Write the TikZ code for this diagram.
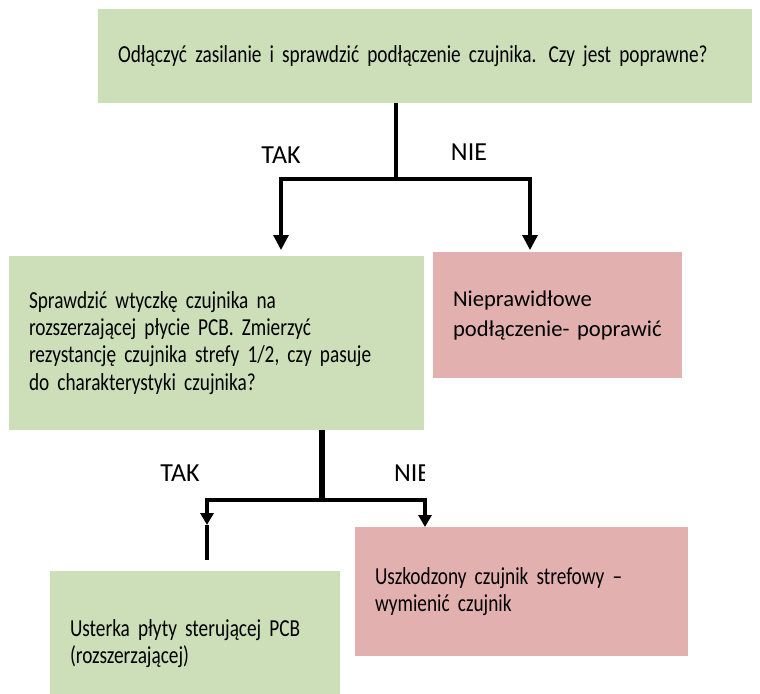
\documentclass[tikz,border=0pt]{standalone}
\usepackage{fontspec}
\setmainfont{Carlito}
\newfontfamily\narrowfont[FakeStretch=0.79,WordSpace=0.85]{Carlito}
\usetikzlibrary{arrows.meta}
\definecolor{boxGreen}{RGB}{205,223,185}
\definecolor{boxRed}{RGB}{227,176,176}
\begin{document}
\begin{tikzpicture}[x=0.5pt,y=-0.5pt,
    flowBox/.style={inner xsep=10pt,inner ysep=0pt,align=left,font=\narrowfont\fontsize{12.2}{13.6}\selectfont},
    greenBox/.style={flowBox,fill=boxGreen},
    redBox/.style={flowBox,fill=boxRed},
    flowLine/.style={line width=1.6pt,draw=black},
    flowArrow/.style={flowLine,-{Triangle[width=7.5pt,length=7.5pt]}},
    ansLabel/.style={font=\fontsize{13}{15}\selectfont},
]
\clip (0,0) rectangle (760,693);
\node[greenBox,text width=307pt,minimum height=47pt] (CHECK) at (425,56)
    {Odłączyć zasilanie i sprawdzić podłączenie czujnika. Czy jest poprawne?};
\node[greenBox,text width=187.5pt,minimum height=87pt] (PCB) at (216.5,343)
    {\frenchspacing Sprawdzić wtyczkę czujnika na\\rozszerzającej płycie PCB. Zmierzyć\\rezystancję czujnika strefy 1/2, czy pasuje\\do charakterystyki czujnika?};
\node[redBox,text width=104.5pt,minimum height=63pt,font=\fontsize{11.3}{15}\selectfont] (BADWIRE) at (557.5,315)
    {Nieprawidłowe\\podłączenie- poprawić};
\node[redBox,text width=146.5pt,minimum height=64.5pt] (BADSENS) at (521.5,591.5)
    {Uszkodzony czujnik strefowy –\\wymienić czujnik};
\node[greenBox,text width=125pt,minimum height=73pt] (BOARD) at (195,644)
    {Usterka płyty sterującej PCB\\(rozszerzającej)};
% first question
\coordinate (SPLITA) at (396,179);
\coordinate (TAKA) at (281,250);
\coordinate (NIEA) at (530,250);
\draw[flowLine] (CHECK.south -| SPLITA) -- (SPLITA);
\draw[flowArrow] (SPLITA) -| (TAKA);
\draw[flowArrow] (SPLITA) -| (NIEA);
\node[ansLabel] (TAKATXT) at (281,155) {TAK};
\node[ansLabel] (NIEATXT) at (469,152) {NIE};
% second question
\coordinate (SPLITB) at (322,500);
\coordinate (TAKB) at (207,525);
\coordinate (TAKBEND) at (207,560);
\coordinate (NIEB) at (425,527);
\draw[flowLine,line width=3pt] (PCB.south -| SPLITB) -- (SPLITB);
\draw[flowArrow,-{Triangle[width=6.5pt,length=6pt]}] (SPLITB) -| (TAKB);
\draw[flowLine] (TAKB) -- (TAKBEND);
\draw[flowArrow,-{Triangle[width=6.5pt,length=6pt]}] (SPLITB) -| (NIEB);
\node[ansLabel] (TAKBTXT) at (180,473) {TAK};
\begin{scope}
\clip (380,440) rectangle (424,495);
\node[ansLabel,anchor=west] (NIEBTXT) at (387,473) {NIE};
\end{scope}
\end{tikzpicture}
\end{document}
